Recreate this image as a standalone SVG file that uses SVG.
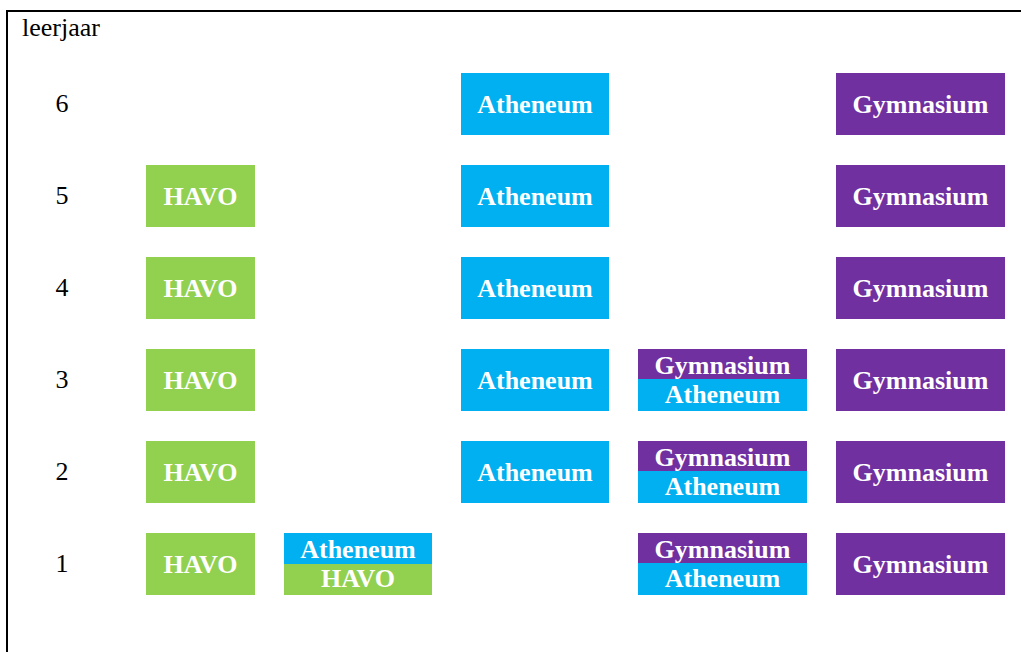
<svg xmlns="http://www.w3.org/2000/svg" width="1021" height="652" viewBox="0 0 1021 652">
<style>
text{font-family:"Liberation Serif","Times New Roman",serif;}
.lbl{font-size:26px;fill:#000;text-anchor:middle;}
.t{font-size:26px;font-weight:bold;fill:#fff;text-anchor:middle;}
.g{fill:#92D050;}
.b{fill:#00B0F0;}
.p{fill:#7030A0;}
.frame{stroke:#000;stroke-width:2;fill:none;}
</style>
<rect width="1021" height="652" fill="#fff"/>
<path class="frame" d="M1021 11 H7 V652"/>
<text x="22" y="36" class="lbl" style="text-anchor:start">leerjaar</text>
<g id="row-labels">
<text x="62" y="112" class="lbl">6</text>
<text x="62" y="204" class="lbl">5</text>
<text x="62" y="296" class="lbl">4</text>
<text x="62" y="388" class="lbl">3</text>
<text x="62" y="480" class="lbl">2</text>
<text x="62" y="572" class="lbl">1</text>
</g>
<g id="havo5"><rect class="g" x="146" y="165" width="109" height="62"/><text class="t" x="200.5" y="205">HAVO</text></g>
<g id="havo4"><rect class="g" x="146" y="257" width="109" height="62"/><text class="t" x="200.5" y="297">HAVO</text></g>
<g id="havo3"><rect class="g" x="146" y="349" width="109" height="62"/><text class="t" x="200.5" y="389">HAVO</text></g>
<g id="havo2"><rect class="g" x="146" y="441" width="109" height="62"/><text class="t" x="200.5" y="481">HAVO</text></g>
<g id="havo1"><rect class="g" x="146" y="533" width="109" height="62"/><text class="t" x="200.5" y="573">HAVO</text></g>
<g id="ath-havo1"><rect class="b" x="284" y="533" width="148" height="31"/><rect class="g" x="284" y="564" width="148" height="31"/><text class="t" x="358" y="558">Atheneum</text><text class="t" x="358" y="587">HAVO</text></g>
<g id="ath6"><rect class="b" x="461" y="73" width="148" height="62"/><text class="t" x="535" y="113">Atheneum</text></g>
<g id="ath5"><rect class="b" x="461" y="165" width="148" height="62"/><text class="t" x="535" y="205">Atheneum</text></g>
<g id="ath4"><rect class="b" x="461" y="257" width="148" height="62"/><text class="t" x="535" y="297">Atheneum</text></g>
<g id="ath3"><rect class="b" x="461" y="349" width="148" height="62"/><text class="t" x="535" y="389">Atheneum</text></g>
<g id="ath2"><rect class="b" x="461" y="441" width="148" height="62"/><text class="t" x="535" y="481">Atheneum</text></g>
<g id="gym-ath3"><rect class="p" x="638" y="349" width="169" height="30"/><rect class="b" x="638" y="379" width="169" height="32"/><text class="t" x="722.5" y="374">Gymnasium</text><text class="t" x="722.5" y="403">Atheneum</text></g>
<g id="gym-ath2"><rect class="p" x="638" y="441" width="169" height="30"/><rect class="b" x="638" y="471" width="169" height="32"/><text class="t" x="722.5" y="466">Gymnasium</text><text class="t" x="722.5" y="495">Atheneum</text></g>
<g id="gym-ath1"><rect class="p" x="638" y="533" width="169" height="30"/><rect class="b" x="638" y="563" width="169" height="32"/><text class="t" x="722.5" y="558">Gymnasium</text><text class="t" x="722.5" y="587">Atheneum</text></g>
<g id="gym6"><rect class="p" x="836" y="73" width="169" height="62"/><text class="t" x="920.5" y="113">Gymnasium</text></g>
<g id="gym5"><rect class="p" x="836" y="165" width="169" height="62"/><text class="t" x="920.5" y="205">Gymnasium</text></g>
<g id="gym4"><rect class="p" x="836" y="257" width="169" height="62"/><text class="t" x="920.5" y="297">Gymnasium</text></g>
<g id="gym3"><rect class="p" x="836" y="349" width="169" height="62"/><text class="t" x="920.5" y="389">Gymnasium</text></g>
<g id="gym2"><rect class="p" x="836" y="441" width="169" height="62"/><text class="t" x="920.5" y="481">Gymnasium</text></g>
<g id="gym1"><rect class="p" x="836" y="533" width="169" height="62"/><text class="t" x="920.5" y="573">Gymnasium</text></g>
<g id="connectors"/>
</svg>
